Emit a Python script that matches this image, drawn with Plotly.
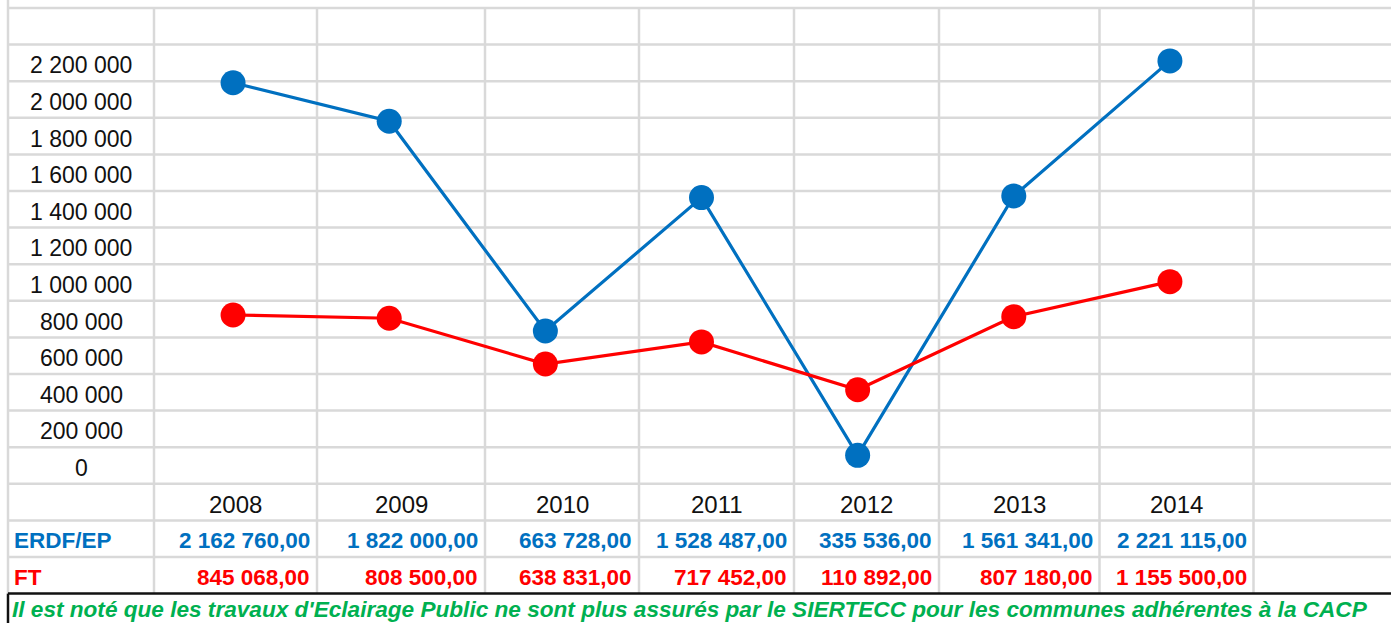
import plotly.graph_objects as go

# ---------------- data ----------------
years = ["2008", "2009", "2010", "2011", "2012", "2013", "2014"]
# values as drawn in the chart
erdf_plot = [2108000, 1897000, 746000, 1478000, 64000, 1487000, 2228000]
ft_plot = [834000, 816000, 565000, 686000, 424000, 825000, 1017000]
# values written in the table
erdf_table = ["2 162 760,00", "1 822 000,00", "663 728,00", "1 528 487,00",
              "335 536,00", "1 561 341,00", "2 221 115,00"]
ft_table = ["845 068,00", "808 500,00", "638 831,00", "717 452,00",
            "110 892,00", "807 180,00", "1 155 500,00"]
y_labels = ["2 200 000", "2 000 000", "1 800 000", "1 600 000", "1 400 000",
            "1 200 000", "1 000 000", "800 000", "600 000", "400 000",
            "200 000", "0"]
note = ("Il est noté que les travaux d'Eclairage Public ne sont plus assurés "
        "par le SIERTECC pour les communes adhérentes à la CACP")

# ---------------- layout constants ----------------
W, H = 1391, 623
TOP = 8
ROW_H = 36.6
N_ROWS = 16
COL_EDGES = [8, 154, 317, 485, 639, 794, 939, 1099.5, 1253.5]
GRID = "#d9d9d9"
BLUE = "#0070C0"
RED = "#FF0000"
GREEN = "#00B050"
FONT = "Liberation Sans, Arial, sans-serif"
Y_ZERO_PX, Y_TOP_PX, Y_TOP_VAL = 467, 66, 2200000


def px(x):
    return x / W


def py(y):
    return 1 - y / H


fig = go.Figure()

fig.add_trace(go.Scatter(
    x=years, y=erdf_plot, mode="lines+markers", name="ERDF/EP",
    line=dict(color=BLUE, width=3.2),
    marker=dict(color=BLUE, size=25), cliponaxis=False))
fig.add_trace(go.Scatter(
    x=years, y=ft_plot, mode="lines+markers", name="FT",
    line=dict(color=RED, width=3.2),
    marker=dict(color=RED, size=25), cliponaxis=False))

shapes = []
row_lines = [TOP + ROW_H * k for k in range(N_ROWS + 1)]
# horizontal cell borders
for y in row_lines[:-1]:
    shapes.append(dict(type="line", xref="paper", yref="paper",
                       x0=px(COL_EDGES[0]), x1=1, y0=py(y), y1=py(y),
                       line=dict(color=GRID, width=2.5), layer="below"))
# vertical cell borders
bottom = row_lines[-1]
for j, x in enumerate(COL_EDGES):
    y_start = 0 if j in (0, len(COL_EDGES) - 1) else TOP
    shapes.append(dict(type="line", xref="paper", yref="paper",
                       x0=px(x), x1=px(x), y0=py(y_start), y1=py(bottom),
                       line=dict(color=GRID, width=2.5), layer="below"))
# black box of the note
shapes.append(dict(type="line", xref="paper", yref="paper",
                   x0=px(COL_EDGES[0]), x1=1, y0=py(bottom), y1=py(bottom),
                   line=dict(color="#111111", width=2.5)))
shapes.append(dict(type="line", xref="paper", yref="paper",
                   x0=px(COL_EDGES[0]), x1=px(COL_EDGES[0]), y0=py(bottom), y1=0,
                   line=dict(color="#111111", width=2.5)))

annotations = []
col_a_center = (COL_EDGES[0] + COL_EDGES[1]) / 2
for i, lab in enumerate(y_labels):
    yc = row_lines[1 + i] + ROW_H / 2 + 2.5
    annotations.append(dict(text=lab, x=px(col_a_center), y=py(yc),
                            xref="paper", yref="paper", showarrow=False,
                            xanchor="center", yanchor="middle",
                            font=dict(family=FONT, size=23, color="#111111")))

year_row = 13
erdf_row = 14
ft_row = 15
for k, yr in enumerate(years):
    c0, c1 = COL_EDGES[k + 1], COL_EDGES[k + 2]
    yc = row_lines[year_row] + ROW_H / 2 + 2
    annotations.append(dict(text=yr, x=px((c0 + c1) / 2), y=py(yc),
                            xref="paper", yref="paper", showarrow=False,
                            xanchor="center", yanchor="middle",
                            font=dict(family=FONT, size=24, color="#111111")))
    for row, vals, col in ((erdf_row, erdf_table, BLUE), (ft_row, ft_table, RED)):
        yc = row_lines[row] + ROW_H / 2 + 2
        annotations.append(dict(text="<b>" + vals[k] + "</b>", x=px(c1 - 5), y=py(yc),
                                xref="paper", yref="paper", showarrow=False,
                                xanchor="right", yanchor="middle",
                                font=dict(family=FONT, size=22.5, color=col)))

for row, lab, col in ((erdf_row, "ERDF/EP", BLUE), (ft_row, "FT", RED)):
    yc = row_lines[row] + ROW_H / 2 + 2
    annotations.append(dict(text="<b>" + lab + "</b>", x=px(12), y=py(yc),
                            xref="paper", yref="paper", showarrow=False,
                            xanchor="left", yanchor="middle",
                            font=dict(family=FONT, size=22.5, color=col)))

annotations.append(dict(text="<b><i>" + note + "</i></b>", x=px(10), y=py(609),
                        xref="paper", yref="paper", showarrow=False,
                        xanchor="left", yanchor="middle",
                        font=dict(family=FONT, size=22.6, color=GREEN)))

# y axis scale: value 0 at Y_ZERO_PX, Y_TOP_VAL at Y_TOP_PX, spanning the full height
per_px = Y_TOP_VAL / (Y_ZERO_PX - Y_TOP_PX)
y_min = -(H - Y_ZERO_PX) * per_px
y_max = Y_ZERO_PX * per_px

fig.update_layout(
    width=W, height=H,
    margin=dict(l=0, r=0, t=0, b=0),
    paper_bgcolor="white", plot_bgcolor="rgba(0,0,0,0)",
    showlegend=False,
    shapes=shapes, annotations=annotations,
    xaxis=dict(type="category", range=[-0.5, 6.5],
               domain=[155 / W, 1248 / W], visible=False),
    yaxis=dict(range=[y_min, y_max], domain=[0, 1], visible=False),
)

fig.write_html("out.html",
               config={"displayModeBar": False},
               post_script="document.body.style.margin='0';"
                           "document.body.style.overflow='hidden';")
